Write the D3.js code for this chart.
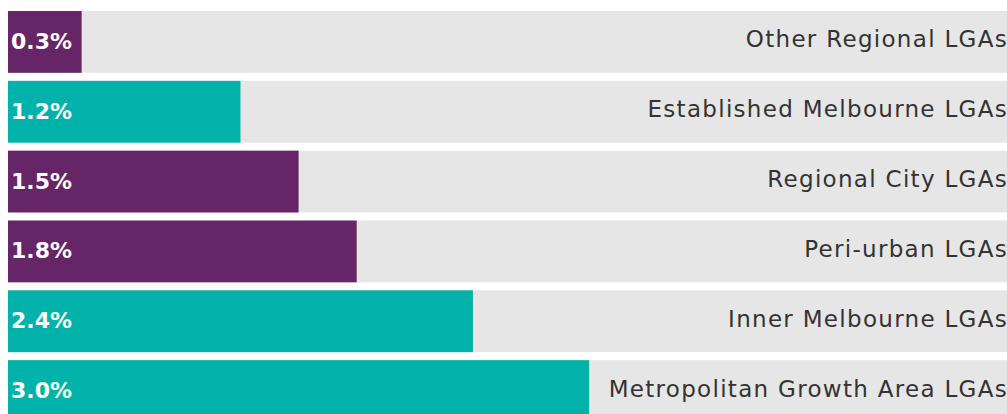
<!DOCTYPE html>
<html>
<head>
<meta charset="utf-8">
<script src="https://cdn.jsdelivr.net/npm/d3@7"></script>
<style>
  body { margin: 0; background: #fff; }
  svg { display: block; }
  .cat { font-family: "DejaVu Sans", sans-serif; font-size: 23px; letter-spacing: 1.3px; fill: #333; }
  .val { font-family: "DejaVu Sans", sans-serif; font-size: 22px; font-weight: 700; fill: #fff; }
</style>
</head>
<body>
<div id="chart"></div>
<script>
// categories top to bottom
var categories = ["Other Regional LGAs", "Established Melbourne LGAs", "Regional City LGAs",
                  "Peri-urban LGAs", "Inner Melbourne LGAs", "Metropolitan Growth Area LGAs"];
// bar lengths as drawn (first bar is drawn a bit longer than its label)
var values = [0.38, 1.2, 1.5, 1.8, 2.4, 3.0];
var valueLabels = ["0.3%", "1.2%", "1.5%", "1.8%", "2.4%", "3.0%"];
var groups = ["regional", "metro", "regional", "regional", "metro", "metro"];

function init() {
    var w = 1007;
    var h = 414;

    var xScale = d3.scaleLinear()
                   .domain([0, 5.157])
                   .range([8, w]);
    var yScale = d3.scaleBand()
                   .domain(categories)
                   .range([7, 426])
                   .paddingInner(0.115)
                   .paddingOuter(0.0575);
    var color = d3.scaleOrdinal()
                  .domain(["regional", "metro"])
                  .range(["#652566", "#00b2a9"]);

    var svg = d3.select("#chart")
                .append("svg")
                .attr("width", w)
                .attr("height", h);

    // grey track behind each bar
    svg.selectAll(".track")
       .data(categories)
       .enter()
       .append("rect")
         .attr("class", "track")
         .attr("x", xScale(0))
         .attr("y", function(d) { return yScale(d); })
         .attr("width", xScale.range()[1] - xScale(0))
         .attr("height", yScale.bandwidth())
         .attr("fill", "#e6e6e6");

    svg.selectAll(".bar")
       .data(values)
       .enter()
       .append("rect")
         .attr("class", "bar")
         .attr("x", xScale(0))
         .attr("y", function(d, i) { return yScale(categories[i]); })
         .attr("width", function(d) { return xScale(d) - xScale(0); })
         .attr("height", yScale.bandwidth())
         .attr("fill", function(d, i) { return color(groups[i]); });

    // value labels inside bars
    svg.selectAll(".val")
       .data(valueLabels)
       .enter()
       .append("text")
         .attr("class", "val")
         .attr("x", xScale(0) + 3)
         .attr("y", function(d, i) { return yScale(categories[i]) + yScale.bandwidth() / 2 + 1; })
         .attr("dominant-baseline", "middle")
         .text(function(d) { return d; });

    // category labels on the right
    svg.selectAll(".cat")
       .data(categories)
       .enter()
       .append("text")
         .attr("class", "cat")
         .attr("x", w + 1)
         .attr("y", function(d) { return yScale(d) + yScale.bandwidth() / 2 - 1; })
         .attr("text-anchor", "end")
         .attr("dominant-baseline", "middle")
         .text(function(d) { return d; });
}
window.onload = init;
</script>
</body>
</html>
